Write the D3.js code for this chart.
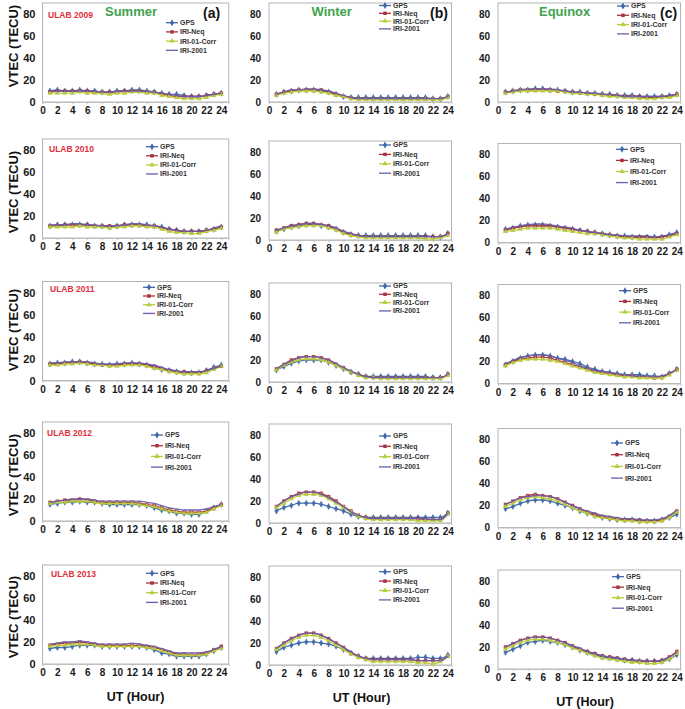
<!DOCTYPE html>
<html><head><meta charset="utf-8">
<script src="https://cdn.jsdelivr.net/npm/d3@7"></script>
<style>body{margin:0;background:#fff}svg{display:block;font-family:"Liberation Sans",Arial,sans-serif}</style>
</head><body><svg id="c" width="685" height="709"></svg>
<script>
// ---------------- data ----------------
const hours = d3.range(1, 25);
const years = ["2009", "2010", "2011", "2012", "2013"];
const seasons = ["Summer", "Winter", "Equinox"];
const panelTags = ["(a)", "(b)", "(c)"];
const seriesNames = ["GPS", "IRI-Neq", "IRI-01-Corr", "IRI-2001"];
const xTicks = d3.range(0, 25, 2);
const yTicks = [0, 20, 40, 60, 80];

// rows = years 2009..2013, values for UT hours 1..24
const gpsSummer = [
 [10,11,10,10,11,10,10,9,9,10,10,11,11,10,9,8,7,7,6,5,5,6,7,8],
 [11,12,12,12,12,12,11,11,10,11,12,12,12,12,11,10,8,7,6,6,6,7,8,10],
 [15,16,16,17,17,16,15,15,14,15,15,16,15,14,12,10,9,8,7,7,7,9,12,14],
 [15,16,17,17,18,17,17,16,15,15,15,15,15,14,12,10,9,7,7,6,6,9,12,15],
 [14,15,15,16,17,17,17,16,16,16,16,16,16,15,13,10,9,7,7,7,7,9,12,15]];
const neqSummer = [
 [9,10,10,10,10,10,9,9,9,9,10,10,10,9,9,7,6,5,5,5,5,6,7,8],
 [11,11,12,12,12,12,11,11,11,11,12,12,12,11,11,9,8,7,6,6,6,7,8,10],
 [15,15,16,16,17,16,15,14,14,14,15,15,15,14,13,11,9,8,8,7,7,9,11,13],
 [17,18,19,19,20,19,18,17,17,17,17,17,16,15,14,12,10,9,8,8,8,9,12,15],
 [17,18,19,19,20,19,18,17,17,17,17,17,17,16,15,13,11,9,9,8,9,10,13,16]];
const corrSummer = [
 [8,8,8,8,9,8,8,8,7,8,8,9,9,8,8,6,5,4,3,3,3,4,6,7],
 [10,10,10,10,11,10,10,10,9,10,10,11,11,10,10,8,6,5,5,4,4,6,7,9],
 [14,14,15,15,16,15,14,14,13,13,14,14,14,13,11,10,8,7,6,6,6,7,10,13],
 [16,17,17,18,18,18,17,16,16,16,16,16,15,14,13,11,9,8,7,7,7,8,11,14],
 [16,17,17,18,18,18,17,16,16,16,16,16,16,15,14,12,10,8,8,8,8,9,12,14]];
const iri2001Summer = [
 [10,10,10,10,10,10,10,9,9,10,10,10,10,10,9,8,7,6,5,5,5,6,7,8],
 [12,12,12,13,13,12,12,11,11,11,12,13,13,12,11,10,8,7,6,6,6,7,9,11],
 [16,16,17,17,17,17,16,15,15,15,16,16,16,15,14,12,10,9,8,8,8,9,11,13],
 [17,18,19,20,20,20,19,18,18,18,18,18,18,17,16,14,12,11,10,10,10,11,13,15],
 [18,19,20,20,21,20,19,18,18,18,18,19,18,17,16,14,12,10,10,10,10,11,13,16]];

const gpsWinter = [
 [7,9,10,11,11,11,10,9,7,5,4,4,4,4,4,4,4,4,4,4,4,3,3,5],
 [8,10,12,13,14,14,13,12,10,7,5,4,4,4,4,4,4,4,4,4,4,3,3,6],
 [11,14,17,19,20,20,20,18,15,12,9,7,5,5,5,5,5,5,5,5,5,4,4,7],
 [11,14,16,18,18,18,17,15,13,11,8,6,5,5,5,5,5,5,5,5,5,5,5,9],
 [12,16,18,20,21,21,20,19,17,14,11,8,6,6,6,6,6,6,6,7,7,6,6,9]];
const neqWinter = [
 [7,9,10,11,11,11,11,9,7,5,4,3,3,3,3,3,3,3,3,3,3,3,3,5],
 [9,11,13,14,15,15,14,13,10,7,5,4,3,3,3,3,3,3,3,3,3,3,3,6],
 [12,16,20,22,23,23,22,20,16,13,9,7,5,4,4,4,4,4,4,4,4,4,4,7],
 [15,20,24,27,28,28,27,24,20,15,11,7,5,4,4,4,4,4,4,4,3,3,3,9],
 [15,20,24,27,29,29,27,24,20,16,11,8,6,5,5,5,5,5,5,4,4,4,4,8]];
const corrWinter = [
 [6,8,9,10,10,10,9,8,6,5,3,2,2,2,2,2,2,2,2,2,2,2,2,4],
 [7,10,11,12,13,13,13,11,9,6,4,3,2,2,2,2,2,2,2,2,1,1,2,4],
 [11,15,18,20,21,21,20,18,15,12,9,6,4,4,3,3,3,3,3,3,3,3,3,6],
 [14,18,22,25,26,26,25,22,18,14,10,6,4,3,3,3,3,3,3,2,2,2,2,8],
 [14,18,22,25,27,27,25,22,18,14,10,7,5,3,3,3,3,3,3,2,2,1,3,8]];
const iri2001Winter = [
 [7,9,11,11,12,12,11,10,8,6,4,3,3,3,3,3,3,3,3,3,3,3,3,5],
 [9,11,13,14,15,15,14,13,11,8,6,4,3,3,3,3,3,3,3,3,3,3,3,6],
 [12,16,19,22,23,23,22,20,17,13,10,7,5,4,4,4,4,4,4,4,4,4,4,7],
 [15,20,24,26,28,28,26,23,19,15,10,7,5,4,4,4,4,4,4,4,4,3,3,9],
 [15,20,24,27,29,29,27,24,20,16,12,8,6,5,5,5,5,5,5,4,4,4,4,8]];

const gpsEquinox = [
 [9,10,11,11,12,12,11,11,10,9,9,8,8,7,7,6,6,6,5,5,5,5,6,7],
 [12,13,15,16,16,16,15,14,13,12,11,10,9,8,7,6,6,5,5,5,5,5,7,9],
 [17,20,23,25,26,26,25,23,22,20,18,15,13,11,10,9,8,8,8,7,7,6,9,13],
 [17,19,22,24,25,25,24,22,20,18,15,13,11,9,8,7,7,7,6,6,6,7,9,12],
 [15,18,21,24,25,26,25,24,22,20,17,15,13,11,10,9,8,8,7,7,7,7,9,13]];
const neqEquinox = [
 [9,10,11,11,11,11,11,10,10,9,8,8,7,7,6,6,5,5,5,4,4,5,5,7],
 [11,13,14,15,15,15,15,14,13,12,11,10,9,8,7,6,5,5,5,5,4,5,6,8],
 [17,20,22,23,24,24,23,21,19,17,15,13,11,10,9,8,7,7,6,6,5,6,9,13],
 [21,24,27,29,30,29,28,26,23,20,17,14,12,10,9,8,7,7,7,6,6,7,10,15],
 [20,23,26,28,29,29,28,26,24,21,18,16,14,12,11,10,9,8,7,7,7,8,11,16]];
const corrEquinox = [
 [8,9,10,10,10,10,10,10,9,8,8,7,7,6,5,5,4,4,3,3,3,4,4,6],
 [10,11,12,13,13,13,13,12,11,10,9,8,8,7,6,5,4,4,3,3,3,3,5,7],
 [16,19,21,22,22,22,21,20,18,16,14,12,10,9,8,7,6,6,5,5,5,5,8,12],
 [19,22,25,27,28,27,26,24,21,18,15,13,10,9,8,7,6,6,5,5,5,6,9,14],
 [18,21,24,26,27,27,26,24,22,19,17,14,12,10,9,8,7,6,6,5,5,6,9,14]];
const iri2001Equinox = [
 [9,10,11,12,12,12,12,11,10,9,9,8,8,7,7,6,5,5,5,5,5,5,6,7],
 [12,14,15,16,17,17,16,15,14,13,11,10,9,8,7,7,6,6,6,6,5,6,7,9],
 [18,21,24,25,26,26,25,23,21,19,16,14,12,11,10,9,8,7,7,7,6,7,9,13],
 [21,24,27,28,29,29,28,26,23,20,17,15,13,11,10,9,8,8,7,7,7,8,11,16],
 [20,23,26,28,29,29,28,26,24,21,19,16,14,12,11,10,9,8,8,7,7,8,11,15]];

// ---------------- layout / style ----------------
const seasonData = [
  [gpsSummer, neqSummer, corrSummer, iri2001Summer],
  [gpsWinter, neqWinter, corrWinter, iri2001Winter],
  [gpsEquinox, neqEquinox, corrEquinox, iri2001Equinox]];
const colors = ["#3d67a8", "#a8323c", "#b9cc3c", "#6b5ca8"];
const symbols = [d3.symbolDiamond, d3.symbolSquare, d3.symbolTriangle, d3.symbolCross];
const symSize = [14, 12, 12, 0];

const colX0 = [42.5, 269, 498];
const colXmax = [25, 24.5, 24.5];
const pxPerHr = 7.45;
const pxPerUnit = 1.1;
const zeroY = [[102,102,102],[238,240,242.5],[380.5,382,383.5],[521,523,527.5],[664,665,669]];
const legendPos = [
  [[180,22.7,9.2],[393,5.5,7.8],[631,6,9.3]],
  [[160,146.7,9.1],[393,145,9.4],[630,149.3,11.1]],
  [[157,287.3,8.7],[393,286,8.3],[633,290.7,10.7]],
  [[165,435,10.7],[393,436,10.3],[625,443,11.7]],
  [[160,573.3,9.7],[393,571.7,9.4],[626,576.7,10.5]]];
const yearPos = [[48,15],[49,149],[50,289.5],[47,433],[51,574]];
const yTitleCenter = [46, 192, 330, 475, 617];

const svg = d3.select("#c");

years.forEach((yr, r) => {
  seasons.forEach((season, c) => {
    const x = d3.scaleLinear().domain([0, colXmax[c]]).range([colX0[c], colX0[c] + colXmax[c]*pxPerHr]);
    const y0 = zeroY[r][c];
    const y = d3.scaleLinear().domain([0, 90]).range([y0, y0 - 90*pxPerUnit]);
    const g = svg.append("g");

    // frame
    g.append("rect")
      .attr("x", x(0)).attr("y", y(90))
      .attr("width", x(colXmax[c]) - x(0)).attr("height", y(0) - y(90))
      .attr("fill", "none").attr("stroke", "#b4b4b4").attr("stroke-width", 1);

    // x axis
    const xa = g.append("g").attr("transform", `translate(0,${y0})`)
      .call(d3.axisBottom(x).tickValues(xTicks).tickSize(2).tickPadding(3));
    xa.select(".domain").attr("stroke", "#c0c0c0");
    xa.selectAll(".tick line").attr("stroke", "#c0c0c0");
    xa.selectAll("text").attr("font-size", 10).attr("fill", "#1a1a1a")
      .attr("font-family", "Liberation Sans, Arial, sans-serif").attr("font-weight", "bold");

    // y axis
    const ya = g.append("g").attr("transform", `translate(${x(0)},0)`)
      .call(d3.axisLeft(y).tickValues(yTicks).tickSize(0).tickPadding(c === 0 ? 7 : 8));
    ya.select(".domain").remove();
    ya.selectAll("text").attr("font-size", c === 0 ? 11 : 10).attr("fill", "#1a1a1a")
      .attr("font-family", "Liberation Sans, Arial, sans-serif").attr("font-weight", "bold");

    // series
    const line = d3.line().x((d, i) => x(hours[i])).y(d => y(d)).curve(d3.curveMonotoneX);
    seasonData[c].forEach((arr, s) => {
      const vals = arr[r];
      g.append("path").attr("d", line(vals)).attr("fill", "none")
        .attr("stroke", colors[s]).attr("stroke-width", 1.3).attr("opacity", 0.95);
      if (symSize[s] > 0) {
        g.selectAll(null).data(vals).enter().append("path")
          .attr("d", d3.symbol().type(symbols[s]).size(symSize[s]))
          .attr("transform", (d, i) => `translate(${x(hours[i])},${y(d)})`)
          .attr("fill", colors[s]).attr("opacity", 0.9);
      }
    });

    // legend
    const [lx, ly, ldy] = legendPos[r][c];
    seriesNames.forEach((name, s) => {
      const yy = ly + s*ldy;
      g.append("line").attr("x1", lx - 14).attr("x2", lx - 2).attr("y1", yy).attr("y2", yy)
        .attr("stroke", colors[s]).attr("stroke-width", 1.3);
      if (symSize[s] > 0) {
        g.append("path").attr("d", d3.symbol().type(symbols[s]).size(symSize[s]))
          .attr("transform", `translate(${lx - 8},${yy})`).attr("fill", colors[s]);
      }
      g.append("text").attr("x", lx).attr("y", yy).attr("dy", "0.35em")
        .attr("font-size", 7).attr("font-weight", "bold").attr("fill", "#333").text(name);
    });

    // season title and tag on first row
    if (r === 0) {
      const titleX = [105, 311.5, 539][c];
      const tagX = [203, 430, 660][c];
      g.append("text").attr("x", titleX).attr("y", 11).attr("dy", "0.35em")
        .attr("font-size", 13).attr("font-weight", "bold").attr("fill", "#3fa34d").text(season);
      g.append("text").attr("x", tagX).attr("y", 13).attr("dy", "0.35em")
        .attr("font-size", 14).attr("font-weight", "bold").attr("fill", "#111").text(panelTags[c]);
    }
    // year label, first column
    if (c === 0) {
      g.append("text").attr("x", yearPos[r][0]).attr("y", yearPos[r][1]).attr("dy", "0.35em")
        .attr("font-size", 8.5).attr("font-weight", "bold").attr("fill", "#e0303c").text("ULAB " + yr);
      g.append("text").attr("transform", `translate(13,${yTitleCenter[r]}) rotate(-90)`)
        .attr("text-anchor", "middle").attr("dy", "0.35em")
        .attr("font-size", 13).attr("font-weight", "bold").attr("fill", "#111").text("VTEC (TECU)");
    }
    // x axis title, last row
    if (r === years.length - 1) {
      const tx = [135.5, 361.5, 585][c];
      const ty = [697, 698, 701.5][c];
      g.append("text").attr("x", tx).attr("y", ty).attr("dy", "0.35em").attr("text-anchor", "middle")
        .attr("font-size", 12.5).attr("font-weight", "bold").attr("fill", "#111").text("UT (Hour)");
    }
  });
});
</script></body></html>
